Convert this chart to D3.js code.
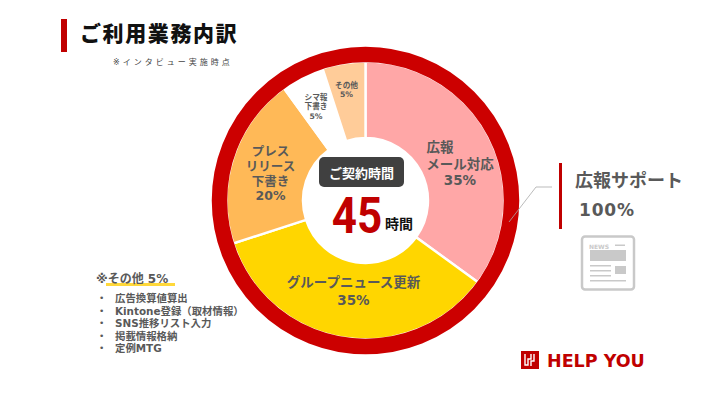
<!DOCTYPE html>
<html lang="ja"><head><meta charset="utf-8">
<script src="https://cdn.jsdelivr.net/npm/d3@7"></script>
<style>html,body{margin:0;padding:0;background:#fff}svg{display:block}text{font-family:"DejaVu Sans","Noto Sans CJK JP",sans-serif}</style>
</head><body><svg id="c" width="720" height="405"></svg>
<script>
const categories = ["広報メール対応","グループニュース更新","プレスリリース下書き","シマ報下書き","その他"];
const values = [35,35,20,5,5];
const sliceColors = ["#FFA7A7","#FFD600","#FFB957","#FFFFFF","#FFCC99"];
const sliceLabels = [["広報","メール対応","35%"],["グループニュース更新","35%"],["プレス","リリース","下書き","20%"],["シマ報","下書き","5%"],["その他","5%"]];
const otherItems = ["広告換算値算出","Kintone登録（取材情報）","SNS推移リスト入力","掲載情報格納","定例MTG"];

const svg = d3.select("#c");
const cx=365.5, cy=200.5, grey="#595959", red="#C00000";
function txt(x,y,s,size,o={}){return svg.append("text").attr("x",x).attr("y",y).attr("font-size",size)
  .attr("font-weight",o.w||700).attr("fill",o.c||grey).attr("text-anchor",o.a||"middle")
  .attr("letter-spacing",o.ls||0).text(s);}

const pie=d3.pie().value(d=>d).sort(null);
const arc=d3.arc().innerRadius(62.5).outerRadius(139);
const g=svg.append("g").attr("transform",`translate(${cx},${cy})`);
g.selectAll("path").data(pie(values)).join("path").attr("d",arc).attr("fill",(d,i)=>sliceColors[i])
  .attr("stroke","#fff").attr("stroke-width",2.4);
// ring on top of the slice strokes
svg.append("circle").attr("cx",cx).attr("cy",cy).attr("r",146).attr("fill","none").attr("stroke","#CC0000").attr("stroke-width",15.5);

// slice labels
const labelPos=[{x:460,y:[152,169,185],s:13.5,shift:[-20,0,0]},{x:353.5,y:[287,305],s:13.5},{x:270.5,y:[155.5,170.5,185.5,200],s:12.5},{x:316,y:[100,109,119],s:7.7},{x:346.5,y:[88,97],s:7.7}];
sliceLabels.forEach((ls,i)=>ls.forEach((s,j)=>{
  const p=labelPos[i];
  txt(p.x+(p.shift?p.shift[j]:0),p.y[j],s,p.s);
}));

// centre
svg.append("rect").attr("x",319).attr("y",157).attr("width",85).attr("height",30).attr("rx",5).attr("fill","#404040");
txt(361.5,177.5,"ご契約時間",13,{c:"#fff"});
txt(0,233,"45",50,{c:"#C00000"}).style("font-family","Roboto, sans-serif").attr("transform","translate(357 0) scale(0.88 1)");
txt(399,229,"時間",14,{c:"#111"});

// title
svg.append("rect").attr("x",61).attr("y",19).attr("width",6).attr("height",33).attr("fill",red);
txt(80,41,"ご利用業務内訳",21,{a:"start",c:"#111",ls:1.6}).attr("font-weight",900);
txt(113,65,"※インタビュー実施時点",8,{a:"start",w:400,ls:3,c:"#444"});

// other list
svg.append("rect").attr("x",106).attr("y",283).attr("width",69).attr("height",3).attr("fill","#FFD83A");
txt(96,283,"※その他 5%",12,{a:"start"});
otherItems.forEach((s,i)=>{
  const y=302+i*12.5;
  txt(99,y-1,"•",9,{w:400,a:"start"});
  txt(115,y,s,10.4,{a:"start"});
});

// callout
svg.append("polyline").attr("points","509,222 536,187 552,187").attr("fill","none").attr("stroke","#AAA").attr("stroke-width",0.8);
svg.append("rect").attr("x",559).attr("y",163).attr("width",3).attr("height",66).attr("fill",red);
txt(575,187,"広報サポート",18,{a:"start"});
txt(579,216,"100%",17,{a:"start",ls:0.8});

// news icon
const ic="#C9C9C9";
svg.append("rect").attr("x",582).attr("y",236.5).attr("width",52).attr("height",53).attr("rx",3).attr("fill","#fff").attr("stroke",ic).attr("stroke-width",2.5);
txt(589,249,"NEWS",6,{a:"start",c:ic});
svg.append("rect").attr("x",615).attr("y",244.5).attr("width",10).attr("height",1.5).attr("fill",ic);
svg.append("rect").attr("x",590).attr("y",250).attr("width",36).attr("height",11).attr("fill",ic);
svg.append("rect").attr("x",615).attr("y",266).attr("width",11).attr("height",8).attr("fill",ic);
[265,270,275,280].forEach(y=>svg.append("rect").attr("x",590).attr("y",y).attr("width",y==280?36:21).attr("height",1.5).attr("fill",ic));

// logo
svg.append("rect").attr("x",521).attr("y",351).attr("width",18).attr("height",18).attr("fill",red);
svg.append("path").attr("d","M525 354v11h3v-6h3v-3M531 354v2M534 354v7h-3v5").attr("fill","none").attr("stroke","#fff").attr("stroke-width",1.4);
txt(547,366.5,"HELP YOU",17.5,{a:"start",c:red});
</script></body></html>
